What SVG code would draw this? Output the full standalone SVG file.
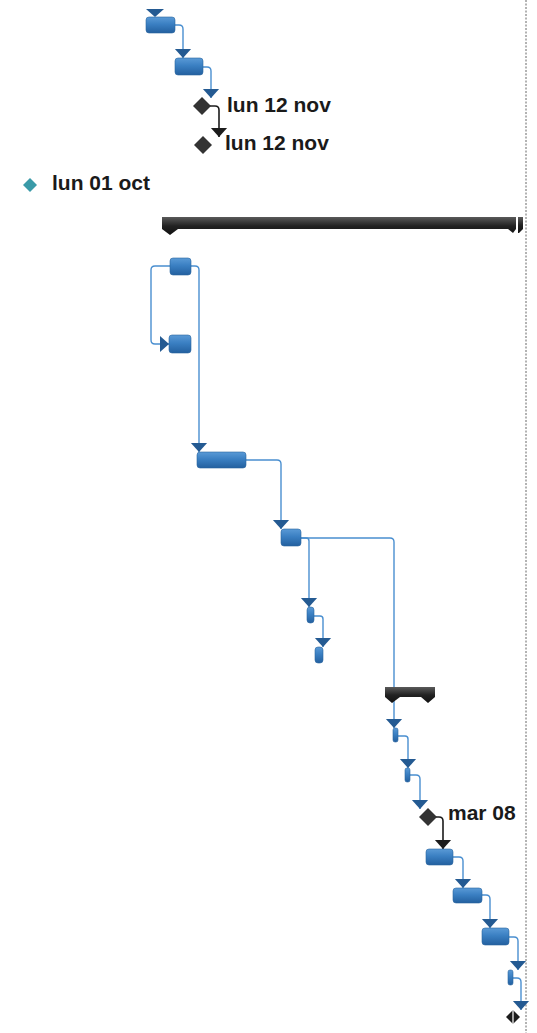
<svg xmlns="http://www.w3.org/2000/svg" width="537" height="1033" viewBox="0 0 537 1033">
<defs>
<linearGradient id="gb" x1="0" y1="0" x2="0" y2="1">
<stop offset="0" stop-color="#5a9ad6"/>
<stop offset="0.45" stop-color="#3a7fc2"/>
<stop offset="1" stop-color="#23609f"/>
</linearGradient>
<linearGradient id="gs" x1="0" y1="0" x2="0" y2="1">
<stop offset="0" stop-color="#5a5a5a"/>
<stop offset="0.5" stop-color="#222"/>
<stop offset="1" stop-color="#111"/>
</linearGradient>
<marker id="ab" viewBox="0 0 10 18" refX="10" refY="9" markerWidth="9" markerHeight="18" markerUnits="userSpaceOnUse" orient="auto">
<path d="M0,0 L10,9 L0,18 z" fill="#245a92"/>
</marker>
<marker id="ak" viewBox="0 0 10 18" refX="10" refY="9" markerWidth="9" markerHeight="18" markerUnits="userSpaceOnUse" orient="auto">
<path d="M0,0 L10,9 L0,18 z" fill="#1c1c1c"/>
</marker>
<style>
.t{fill:url(#gb);stroke:#2a65a0;stroke-width:0.6}
.c{fill:none;stroke:#4a8fd0;stroke-width:1.4;marker-end:url(#ab)}
.k{fill:none;stroke:#1c1c1c;stroke-width:1.6;marker-end:url(#ak)}
.m{fill:#333}
.s{fill:url(#gs)}
.l{font-family:"Liberation Sans",Arial,sans-serif;font-weight:bold;font-size:21px;fill:#1a1a1a}
</style>
</defs>
<rect width="537" height="1033" fill="#fff"/>
<line x1="526" y1="0" x2="526" y2="1033" stroke="#666" stroke-width="1" stroke-dasharray="2 1.5"/>

<g id="connectors">
<polygon points="146,9 164,9 155,17" fill="#245a92"/>
<path class="c" d="M175,25 H179 Q183,25 183,29 V58"/>
<path class="c" d="M203,67 H207 Q211,67 211,71 V98"/>
<path class="k" d="M210,106 H215 Q219,106 219,110 V137"/>
<path class="c" d="M170,266 H155 Q151,266 151,270 V340 Q151,344 155,344 H169"/>
<path class="c" d="M191,266 H195 Q199,266 199,270 V452"/>
<path class="c" d="M246,460 H277 Q281,460 281,464 V529"/>
<path class="c" d="M301,538 H390 Q394,538 394,542 V728"/>
<path class="c" d="M301,538 H306 Q309,538 309,541 V607"/>
<path class="c" d="M314,616 H320 Q323,616 323,619 V647"/>
<path class="c" d="M397,736 H405 Q408,736 408,739 V768"/>
<path class="c" d="M409,775 H416 Q420,775 420,779 V809"/>
<path class="k" d="M436,817 H439 Q443,817 443,821 V849"/>
<path class="c" d="M453,857 H459 Q463,857 463,861 V888"/>
<path class="c" d="M482,895 H486 Q490,895 490,899 V928"/>
<path class="c" d="M509,937 H514 Q518,937 518,941 V970"/>
<path class="c" d="M512,978 H517 Q521,978 521,982 V1010"/>
</g>

<g id="task1"><rect class="t" x="146" y="17" width="29" height="16" rx="3"/></g>
<g id="task2"><rect class="t" x="175" y="58" width="28" height="17" rx="3"/></g>
<g id="milestone1"><polygon class="m" points="202,97 211,106 202,115 193,106"/><text class="l" x="227" y="112">lun 12 nov</text></g>
<g id="milestone2"><polygon class="m" points="203,136 212,145 203,154 194,145"/><text class="l" x="225" y="150">lun 12 nov</text></g>
<g id="milestone0"><polygon points="30,178 37,185 30,192 23,185" fill="#3a9aa8"/><text class="l" x="52" y="190">lun 01 oct</text></g>

<g id="summary1">
<path class="s" d="M162,217 H516 V229 L513,233 L508,229 H178 L170,235 L162,229 Z"/>
<path class="s" d="M518,217 H523 V229 L519,233 L518,233 Z"/>
</g>

<g id="task3"><rect class="t" x="170" y="258" width="21" height="17" rx="3"/></g>
<g id="task4"><rect class="t" x="169" y="335" width="22" height="18" rx="3"/></g>
<g id="task5"><rect class="t" x="197" y="452" width="49" height="16" rx="3"/></g>
<g id="task6"><rect class="t" x="281" y="529" width="20" height="17" rx="3"/></g>
<g id="task7"><rect class="t" x="307" y="607" width="7" height="16" rx="3"/></g>
<g id="task8"><rect class="t" x="315" y="647" width="8" height="16" rx="3"/></g>

<g id="summary2"><path class="s" d="M385,687 H435 V697 L428,703 L421,697 H400 L392,703 L385,697 Z"/></g>

<g id="task9"><rect class="t" x="393" y="728" width="5" height="14" rx="2"/></g>
<g id="task10"><rect class="t" x="405" y="768" width="5" height="14" rx="2"/></g>
<g id="milestone3"><polygon class="m" points="428,808 437,817 428,826 419,817"/><text class="l" x="448" y="820">mar 08</text></g>
<g id="task11"><rect class="t" x="426" y="849" width="27" height="16" rx="3"/></g>
<g id="task12"><rect class="t" x="453" y="888" width="29" height="15" rx="3"/></g>
<g id="task13"><rect class="t" x="482" y="928" width="27" height="17" rx="3"/></g>
<g id="task14"><rect class="t" x="508" y="970" width="5" height="15" rx="2"/></g>
<g id="milestone4"><polygon points="513,1010 520,1017 513,1024 506,1017" fill="#1c1c1c"/><line x1="513" y1="1010" x2="513" y2="1024" stroke="#fff" stroke-width="1.2"/></g>
</svg>
